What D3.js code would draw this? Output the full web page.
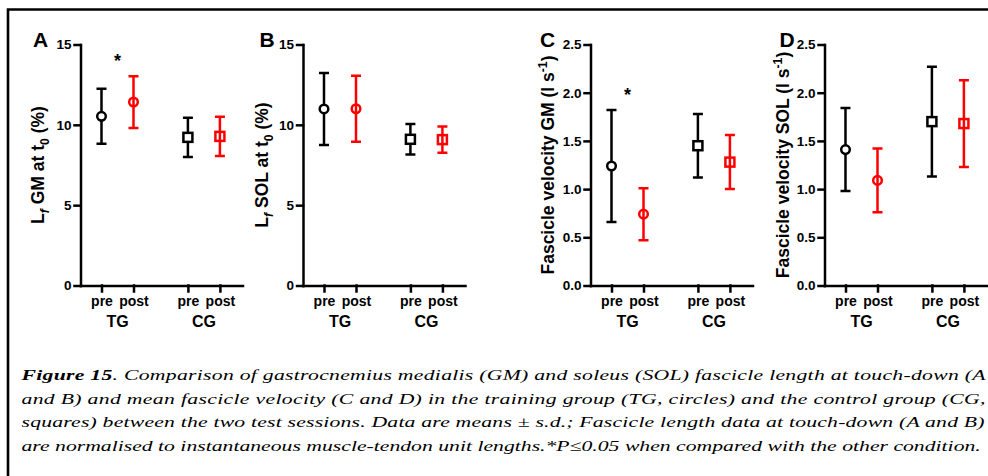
<!DOCTYPE html>
<html>
<head>
<meta charset="utf-8">
<script src="https://cdn.jsdelivr.net/npm/d3@7"></script>
<style>
  body { margin: 0; background: #fff; }
  svg { display: block; }
  .fig text { font-family: "Liberation Sans", Arial, sans-serif; font-weight: bold; }
  .caption text { font-family: "Liberation Serif", "Times New Roman", serif; font-style: italic; }
</style>
</head>
<body>
<svg width="988" height="476"></svg>
<script>
// data (mean and s.d. per condition: TG pre, TG post, CG pre, CG post)
var conditions = ["pre", "post", "pre", "post"];
var groups = ["TG", "CG"];
var lfGmMean = [10.53, 11.42, 9.22, 9.28];
var lfGmSd = [1.71, 1.61, 1.22, 1.22];
var lfSolMean = [10.99, 11.0, 9.1, 9.08];
var lfSolSd = [2.24, 2.05, 0.95, 0.82];
var velGmMean = [1.24, 0.74, 1.45, 1.28];
var velGmSd = [0.58, 0.27, 0.33, 0.28];
var velSolMean = [1.41, 1.09, 1.70, 1.68];
var velSolSd = [0.43, 0.33, 0.57, 0.45];
var lengthTicks = [0, 5, 10, 15];
var velocityTicks = [0, 0.5, 1.0, 1.5, 2.0, 2.5];
var starLfGm = 14.25;   // * above TG in A
var starVelGm = 2.02;   // * above TG in C
var captionLines = [
    [["Figure 15", true], [". Comparison of gastrocnemius medialis (GM) and soleus (SOL) fascicle length at touch-down (A", false]],
    [["and B) and mean fascicle velocity (C and D) in the training group (TG, circles) and the control group (CG,", false]],
    [["squares) between the two test sessions. Data are means \u00b1 s.d.; Fascicle length data at touch-down (A and B)", false]],
    [["are normalised to instantaneous muscle-tendon unit lengths.*P\u22640.05 when compared with the other condition.", false]]
];

var svg = d3.select("svg");

// frame
svg.append("path")
    .attr("d", "M8,476V9.5H988")
    .attr("fill", "none")
    .attr("stroke", "#000")
    .attr("stroke-width", 2.6);

var yTop = 44.5, yBottom = 285.5, axisW = 162;
var slots = [0, 1, 2.7, 3.7];   // x slot of each condition, gap between groups
var x = d3.scaleLinear().domain([-0.656, 4.406]).range([0, axisW]);

var panels = [
    {letter: "A", ax: 80.5, lx: 33, tx: 44, mean: lfGmMean, sd: lfGmSd, ticks: lengthTicks, max: 15,
     fmt: d3.format("d"), star: starLfGm, title: [["L", 0], ["f", 1], [" GM at t", 0], ["0", 1], [" (%)", 0]]},
    {letter: "B", ax: 303, lx: 259.5, tx: 267.5, mean: lfSolMean, sd: lfSolSd, ticks: lengthTicks, max: 15,
     fmt: d3.format("d"), star: null, title: [["L", 0], ["f", 1], [" SOL at t", 0], ["0", 1], [" (%)", 0]]},
    {letter: "C", ax: 590.5, lx: 540, tx: 554, mean: velGmMean, sd: velGmSd, ticks: velocityTicks, max: 2.5,
     fmt: d3.format(".1f"), star: starVelGm, title: [["Fascicle velocity GM (l s", 0], ["-1", 2], [")", 0]]},
    {letter: "D", ax: 824.5, lx: 779.5, tx: 788.5, mean: velSolMean, sd: velSolSd, ticks: velocityTicks, max: 2.5,
     fmt: d3.format(".1f"), star: null, title: [["Fascicle velocity SOL (l s", 0], ["-1", 2], [")", 0]]}
];
var titleSize = 17.5;

var fig = svg.append("g").attr("class", "fig");

panels.forEach(function (p) {
    var g = fig.append("g").attr("transform", "translate(" + p.ax + ",0)");
    var y = d3.scaleLinear().domain([0, p.max]).range([yBottom, yTop]);

    var yAxis = g.append("g")
        .call(d3.axisLeft(y).tickValues(p.ticks).tickFormat(p.fmt).tickSize(6).tickSizeOuter(0).tickPadding(3));
    yAxis.selectAll("text").attr("font-size", 13.5).attr("fill", "#000");

    var xAxis = g.append("g")
        .attr("transform", "translate(0," + yBottom + ")")
        .call(d3.axisBottom(x).tickValues(slots).tickSize(6).tickSizeOuter(0).tickPadding(4.5)
            .tickFormat(function (d, i) { return conditions[i]; }));
    xAxis.selectAll("text").attr("font-size", 14).attr("fill", "#000");

    g.selectAll(".domain, .tick line")
        .attr("stroke", "#000")
        .attr("stroke-width", 2.5)
        .attr("stroke-linecap", "square");

    // group labels
    g.selectAll(".grp")
        .data(groups)
        .enter().append("text")
        .attr("class", "grp")
        .attr("x", function (d, i) { return x((slots[2 * i] + slots[2 * i + 1]) / 2); })
        .attr("y", 327)
        .attr("text-anchor", "middle")
        .attr("font-size", 16)
        .text(function (d) { return d; });

    // error bars + markers
    var pts = g.selectAll(".pt")
        .data(p.mean.map(function (m, i) { return {i: i, m: m, s: p.sd[i]}; }))
        .enter().append("g")
        .attr("class", "pt")
        .attr("transform", function (d) { return "translate(" + x(slots[d.i]) + ",0)"; })
        .attr("stroke", function (d) { return d.i % 2 ? "#ff0000" : "#000"; })
        .attr("stroke-width", 2.5)
        .attr("fill", "none");

    pts.append("path")
        .attr("d", function (d) {
            var hi = y(d.m + d.s), lo = y(d.m - d.s);
            return "M0," + hi + "V" + lo + "M-5," + hi + "H5M-5," + lo + "H5";
        });

    pts.filter(function (d) { return d.i < 2; }).append("circle")
        .attr("cy", function (d) { return y(d.m); })
        .attr("r", 4.3)
        .attr("fill", function (d) { return d.i % 2 ? "none" : "#fff"; });

    pts.filter(function (d) { return d.i >= 2; }).append("rect")
        .attr("x", -4.5)
        .attr("y", function (d) { return y(d.m) - 4.5; })
        .attr("width", 9)
        .attr("height", 9)
        .attr("fill", function (d) { return d.i % 2 ? "none" : "#fff"; });

    if (p.star != null) {
        g.append("text")
            .attr("x", x((slots[0] + slots[1]) / 2))
            .attr("y", y(p.star) + 10)
            .attr("text-anchor", "middle")
            .attr("font-size", 18)
            .text("*");
    }

    // panel letter
    fig.append("text")
        .attr("x", p.lx)
        .attr("y", 47)
        .attr("font-size", 21)
        .text(p.letter);

    // y title
    var t = fig.append("text")
        .attr("transform", "translate(" + p.tx + "," + ((yTop + yBottom) / 2) + ") rotate(-90)")
        .attr("text-anchor", "middle")
        .attr("font-size", titleSize);
    var shift = 0;
    p.title.forEach(function (part) {
        var target = part[1] === 1 ? 0.3 * titleSize : part[1] === 2 ? -0.4 * titleSize : 0;
        t.append("tspan")
            .attr("dy", target - shift)
            .attr("font-size", part[1] ? titleSize * 0.7 : null)
            .attr("font-style", part[1] === 1 && part[0] === "f" ? "italic" : null)
            .text(part[0]);
        shift = target;
    });
});

// caption: the scan is stretched sideways, so scale the text to fill each line
var sy = 0.9;
var cap = svg.append("g").attr("class", "caption");
var capY = [380, 403.7, 427.3, 451];
var capW = [964, 964, 963, 960];
var capTexts = captionLines.map(function (line, i) {
    var t = cap.append("text").attr("font-size", 17);
    line.forEach(function (seg) {
        t.append("tspan")
            .attr("font-weight", seg[1] ? "bold" : null)
            .text(seg[0]);
    });
    return t;
});
// common sideways stretch taken from the last (unjustified) line
var sx = capW[3] / capTexts[3].node().getComputedTextLength();
capTexts.forEach(function (t, i) {
    t.attr("transform", "translate(21.5," + capY[i] + ") scale(" + sx + "," + sy + ")");
    if (i < 3) t.attr("textLength", capW[i] / sx).attr("lengthAdjust", "spacing");
});
</script>
</body>
</html>
